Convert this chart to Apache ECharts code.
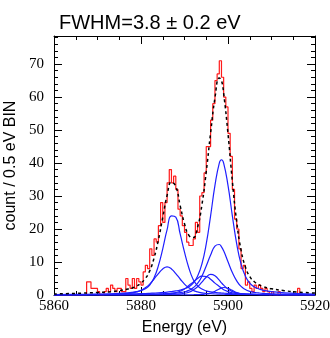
<!DOCTYPE html>
<html><head><meta charset="utf-8">
<script src="https://cdn.jsdelivr.net/npm/echarts@6/dist/echarts.min.js"></script>
<style>html,body{margin:0;padding:0;background:#fff}#c{width:330px;height:338px}</style>
</head><body><div id="c"></div>
<script>
// ---- data ----
const titleText = 'FWHM=3.8 \u00b1 0.2 eV';
const binStart = 5860;
const binWidth = 0.5;
// histogram counts, 0.5 eV bins from 5860.0 to 5919.5
const counts = [
  0,0,0,0,0,0,0,0,0,0,
  0,0,0,0,0,4,4,2,2,2,
  1,0,0,1,2,1,3,2,1,2,
  2,1,1,5,3,2,5,2,5,4,
  3,7,9,8,14,12,17,16,21,28,
  22,28,34,38,34,36,32,26,24,21,
  19,16,15,15,17,22,19,30,31,37,
  45,45,53,58,65,67,71,66,60,57,
  49,42,32,23,20,14,8,9,3,4,
  2,1,3,2,3,2,1,2,1,0,
  1,0,0,1,0,0,0,0,0,0,
  0,0,2,0,0,0,0,0,0,0
];
// energies where fit curves are read
const fitEnergy = [5860,5865,5870,5873,5875,5877,5878,5879,5880,5881,5882,5883,5884,5885,5886,5887,5888,5889,5890,5891,5892,5893,5894,5895,5896,5897,5898,5898.5,5899,5900,5901,5902,5903,5904,5905,5906,5907,5908,5909,5910,5913,5916,5920];
const compKa11 = [0.08,0.11,0.17,0.22,0.26,0.31,0.34,0.38,0.42,0.46,0.52,0.59,0.67,0.77,0.88,1.04,1.23,1.5,1.9,2.5,3.6,5.7,9.4,15.5,24.0,33.2,40.0,41.0,40.0,33.2,24.0,15.5,9.4,5.7,3.6,2.5,1.9,1.5,1.23,1.04,0.67,0.46,0.31];
const compKa12 = [0.04,0.06,0.09,0.11,0.13,0.15,0.17,0.18,0.2,0.22,0.24,0.27,0.31,0.35,0.41,0.48,0.58,0.73,0.98,1.4,2.2,3.5,5.7,8.8,12.1,14.8,15.3,14.6,13.4,10.1,6.8,4.3,2.6,1.66,1.1,0.8,0.64,0.51,0.43,0.37,0.26,0.19,0.13];
const compKa13 = [0.02,0.02,0.04,0.05,0.06,0.08,0.09,0.1,0.11,0.13,0.15,0.18,0.22,0.28,0.36,0.5,0.73,1.15,1.8,2.9,3.9,5.0,5.7,5.6,4.8,3.6,2.6,2.1,1.6,1.05,0.67,0.46,0.34,0.26,0.21,0.17,0.14,0.12,0.1,0.09,0.06,0.045,0.03];
const compKa14 = [0.01,0.02,0.03,0.035,0.04,0.05,0.06,0.065,0.07,0.08,0.09,0.1,0.12,0.14,0.17,0.21,0.27,0.36,0.54,0.85,1.5,2.5,3.9,5.4,6.27,5.86,4.5,3.7,3.0,1.8,1.05,0.63,0.41,0.3,0.23,0.18,0.15,0.13,0.11,0.09,0.06,0.045,0.03];
const compKa15 = [0.005,0.007,0.01,0.012,0.014,0.016,0.018,0.02,0.02,0.022,0.024,0.026,0.028,0.03,0.032,0.035,0.037,0.04,0.05,0.06,0.08,0.11,0.17,0.3,0.59,1.13,1.82,2.1,2.28,2.06,1.39,0.77,0.39,0.21,0.13,0.09,0.07,0.06,0.05,0.04,0.03,0.02,0.015];
const compKa21 = [0.11,0.16,0.26,0.36,0.48,0.67,0.82,1.03,1.35,1.9,3.0,5.2,8.9,14.0,19.8,24.0,23.6,18.5,13.0,8.2,4.7,2.8,1.8,1.27,0.98,0.79,0.65,0.6,0.55,0.47,0.41,0.36,0.32,0.28,0.25,0.23,0.21,0.19,0.17,0.16,0.12,0.1,0.08];
const compKa22 = [0.06,0.09,0.15,0.22,0.31,0.48,0.65,0.93,1.4,2.2,3.3,4.85,6.5,7.9,8.5,7.9,6.5,4.85,3.3,2.2,1.4,0.93,0.65,0.48,0.38,0.31,0.26,0.24,0.22,0.19,0.17,0.15,0.13,0.12,0.11,0.1,0.09,0.085,0.08,0.07,0.06,0.05,0.04];
const fitTotal = [0.3,0.5,0.75,1.0,1.3,1.8,2.1,2.7,3.6,5.0,7.3,11.2,16.7,23.5,30.2,34.2,32.9,27.1,21.6,18.1,17.4,20.5,27.3,37.4,49.1,59.7,65.8,65.0,61.1,48.9,34.5,22.2,13.6,8.5,5.6,4.1,3.2,2.6,2.2,1.9,1.3,0.9,0.6];
const xMin = 5860, xMax = 5920, xStep = 20;
const yMin = 0, yMax = 78.5, yStep = 10;
const xName = 'Energy (eV)';
const yName = 'count / 0.5 eV BIN';

// ---- build ----
const histData = counts.map((v, i) => [binStart + i * binWidth, v]);
histData.push([binStart + counts.length * binWidth, counts[counts.length - 1]]);
const pair = arr => fitEnergy.map((e, i) => [e, arr[i]]);
const comps = [compKa11, compKa12, compKa13, compKa14, compKa15, compKa21, compKa22];

const serifFont = '"Liberation Serif", "Times New Roman", serif';
const sansFont = '"Liberation Sans", Arial, sans-serif';

function xAx(pos, show) {
  return {
    type: 'value', position: pos, min: xMin, max: xMax, interval: xStep,
    axisLine: { show: true, onZero: false, lineStyle: { color: '#000', width: 1 } },
    axisTick: { show: true, inside: true, length: 8, lineStyle: { color: '#000' } },
    minorTick: { show: true, splitNumber: 4, length: 4, lineStyle: { color: '#000' } },
    splitLine: { show: false }, minorSplitLine: { show: false },
    axisLabel: { show: show, margin: 4, color: '#000', fontSize: 15, fontFamily: serifFont,
      showMinLabel: true, showMaxLabel: true, formatter: v => String(v) },
    name: show ? xName : '', nameLocation: 'middle', nameGap: 25,
    nameTextStyle: { color: '#000', fontSize: 16, fontFamily: sansFont }
  };
}
function yAx(pos, show) {
  return {
    type: 'value', position: pos, min: yMin, max: yMax, interval: yStep,
    axisLine: { show: true, onZero: false, lineStyle: { color: '#000', width: 1 } },
    axisTick: { show: true, inside: true, length: 8, lineStyle: { color: '#000' } },
    minorTick: { show: true, splitNumber: 5, length: 4, lineStyle: { color: '#000' } },
    splitLine: { show: false }, minorSplitLine: { show: false },
    axisLabel: { show: show, margin: 10, color: '#000', fontSize: 15, fontFamily: serifFont,
      showMaxLabel: false, formatter: v => String(v) },
    name: show ? yName : '', nameLocation: 'middle', nameGap: 29, nameRotate: 90,
    nameTextStyle: { color: '#000', fontSize: 16, fontFamily: sansFont }
  };
}

const series = [{
  type: 'line', step: 'end', data: histData, symbol: 'none',
  lineStyle: { color: '#ff1a1a', width: 1.2 }, itemStyle: { color: '#ff1a1a' }, z: 2
}];
comps.forEach(c => series.push({
  type: 'line', data: pair(c), smooth: true, symbol: 'none',
  lineStyle: { color: '#1f1fff', width: 1.2 }, itemStyle: { color: '#1f1fff' }, z: 3
}));
series.push({
  type: 'line', data: pair(fitTotal), smooth: true, symbol: 'none',
  lineStyle: { color: '#000', width: 1.5, type: [3, 3] }, itemStyle: { color: '#000' }, z: 4
});

const chart = echarts.init(document.getElementById('c'), null, { renderer: 'canvas' });
chart.setOption({
  animation: false,
  backgroundColor: '#fff',
  title: { text: titleText, left: 54, top: 8,
    textStyle: { fontSize: 20, fontWeight: 'normal', color: '#000', fontFamily: sansFont } },
  grid: { left: 54, right: 15, top: 36, bottom: 43, containLabel: false, outerBoundsMode: 'none' },
  xAxis: [xAx('bottom', true), xAx('top', false)],
  yAxis: [yAx('left', true), yAx('right', false)],
  series: series
});
</script></body></html>
